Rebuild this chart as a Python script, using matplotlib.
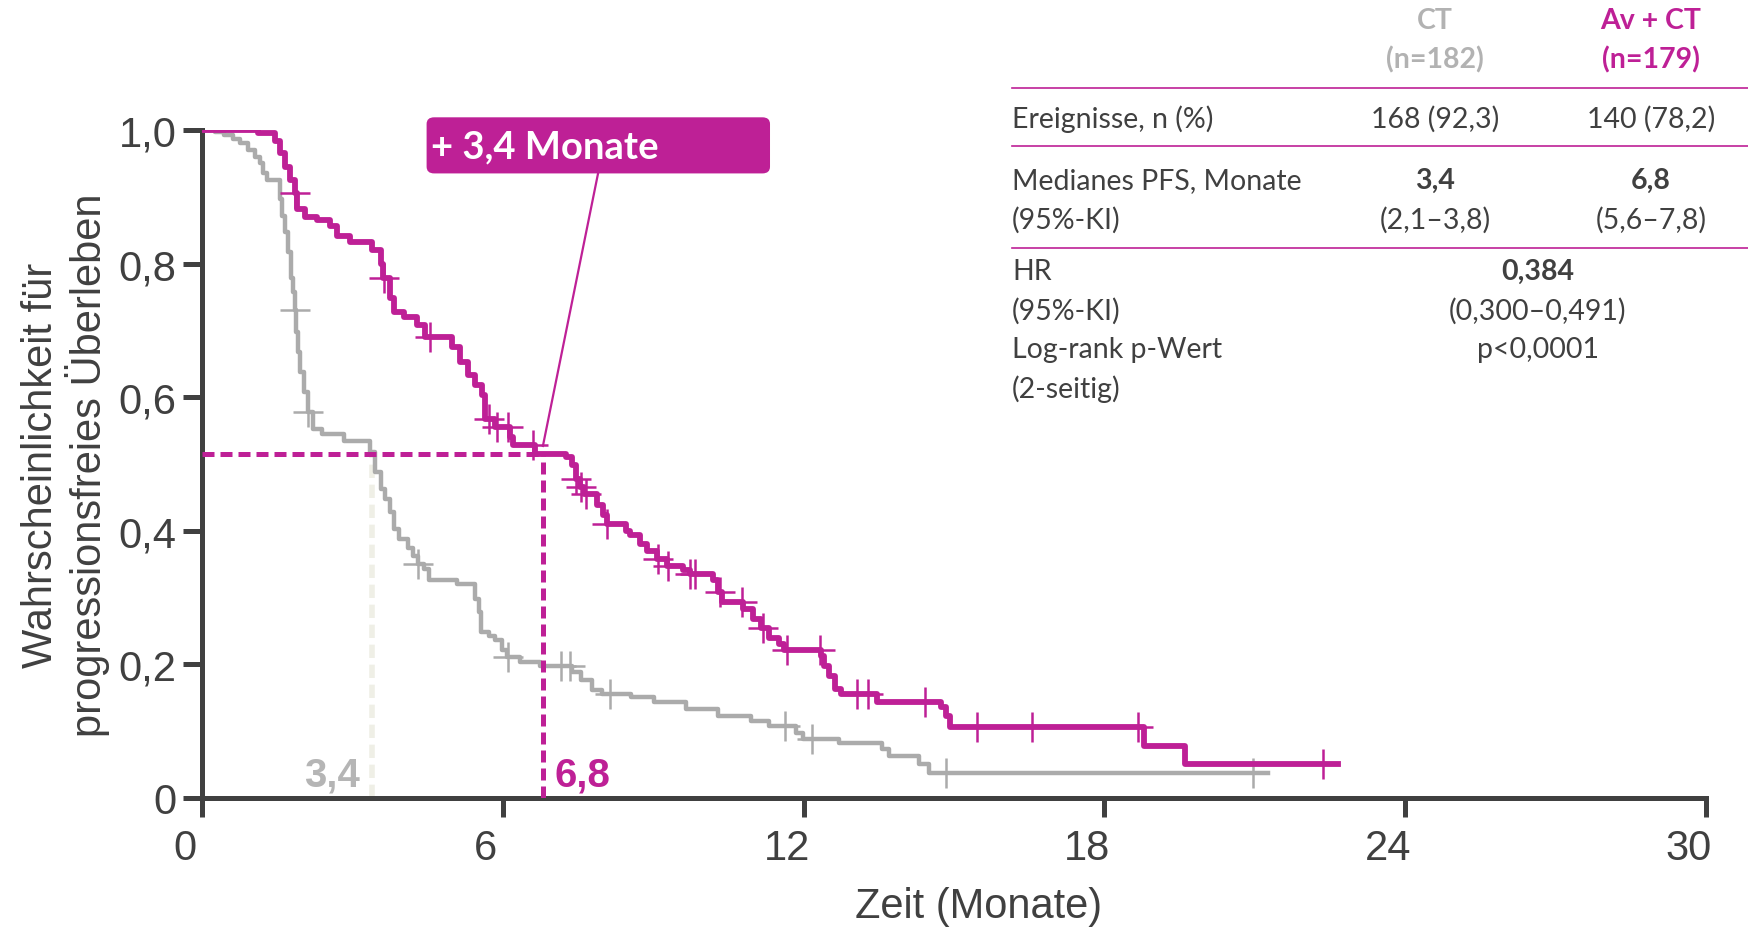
import numpy as np
import matplotlib
matplotlib.use("Agg")
import matplotlib.pyplot as plt
import matplotlib.transforms as mtransforms
from matplotlib.patches import FancyBboxPatch

# ---------------- data ----------------
# Av + CT arm: step times (months) and survival after each step
av_t = [0, 1.12, 1.46, 1.55, 1.65, 1.75, 1.85, 1.89, 2.05, 2.29, 2.55, 2.69, 2.95,
        3.39, 3.58, 3.62, 3.75, 3.82, 4.02, 4.28, 4.45, 4.98, 5.15, 5.30, 5.45,
        5.58, 5.65, 5.85, 6.15, 6.21, 6.65, 7.27, 7.38, 7.47, 7.54, 7.61, 7.87,
        8.00, 8.07, 8.45, 8.54, 8.74, 8.87, 9.07, 9.27, 9.60, 9.73, 10.20, 10.30,
        10.37, 10.80, 11.00, 11.15, 11.30, 11.50, 11.60, 12.35, 12.40, 12.50,
        12.62, 12.75, 13.46, 14.75, 14.85, 14.92, 18.78, 19.61, 22.65]
av_s = [1.0, 0.995, 0.983, 0.965, 0.945, 0.925, 0.905, 0.882, 0.870, 0.865, 0.857,
        0.842, 0.832, 0.820, 0.800, 0.778, 0.748, 0.728, 0.720, 0.708, 0.690, 0.675,
        0.652, 0.633, 0.618, 0.603, 0.568, 0.555, 0.540, 0.528, 0.515, 0.510, 0.498,
        0.478, 0.465, 0.455, 0.438, 0.423, 0.410, 0.400, 0.393, 0.380, 0.370, 0.358,
        0.348, 0.341, 0.336, 0.326, 0.308, 0.293, 0.283, 0.268, 0.255, 0.240, 0.231,
        0.221, 0.213, 0.198, 0.183, 0.163, 0.156, 0.143, 0.136, 0.123, 0.106, 0.078,
        0.051, 0.051]
av_cens = [1.86, 3.64, 4.55, 5.72, 5.88, 6.11, 6.61, 7.47, 7.56, 7.66, 8.07, 9.10,
           9.30, 9.73, 9.83, 10.33, 10.77, 11.20, 11.66, 12.33, 13.06, 13.29, 14.42,
           15.45, 16.56, 18.68, 22.37]

# CT arm
ct_t = [0, 0.26, 0.43, 0.62, 0.76, 0.92, 1.06, 1.16, 1.22, 1.30, 1.55, 1.60, 1.66,
        1.72, 1.77, 1.82, 1.86, 1.88, 1.91, 1.95, 2.03, 2.12, 2.22, 2.40, 2.84, 3.36,
        3.45, 3.58, 3.66, 3.75, 3.83, 3.93, 4.10, 4.20, 4.30, 4.42, 4.53, 5.08, 5.44,
        5.52, 5.57, 5.72, 5.85, 5.99, 6.08, 6.35, 6.75, 7.38, 7.55, 7.78, 7.98, 8.55,
        9.02, 9.65, 10.30, 10.95, 11.30, 11.85, 11.98, 12.70, 13.57, 13.70, 14.30,
        14.50, 21.27]
ct_s = [1.0, 0.997, 0.993, 0.987, 0.980, 0.970, 0.960, 0.950, 0.935, 0.925, 0.897,
        0.872, 0.847, 0.817, 0.778, 0.758, 0.730, 0.697, 0.667, 0.638, 0.608, 0.578,
        0.553, 0.545, 0.535, 0.518, 0.488, 0.463, 0.448, 0.428, 0.403, 0.388, 0.375,
        0.363, 0.351, 0.343, 0.326, 0.321, 0.298, 0.278, 0.248, 0.243, 0.236, 0.221,
        0.211, 0.203, 0.198, 0.188, 0.176, 0.161, 0.156, 0.151, 0.143, 0.133, 0.123,
        0.116, 0.108, 0.098, 0.088, 0.083, 0.073, 0.063, 0.051, 0.038, 0.038]
ct_cens = [1.86, 2.12, 4.30, 6.11, 7.17, 7.34, 8.13, 11.63, 12.16, 14.85, 20.97]

median_ct = 3.4
median_av = 6.8

x_ticks = [0, 6, 12, 18, 24, 30]
y_ticks = [0, 0.2, 0.4, 0.6, 0.8, 1.0]
y_ticklabels = ["0", "0,2", "0,4", "0,6", "0,8", "1,0"]

tab_cols = ["CT\n(n=182)", "Av + CT\n(n=179)"]
tab_rows = ["Ereignisse, n (%)", "Medianes PFS, Monate", "(95%-KI)",
            "HR", "(95%-KI)", "Log-rank p-Wert", "(2-seitig)"]
events = ["168 (92,3)", "140 (78,2)"]
medians = ["3,4", "6,8"]
median_ci = ["(2,1\u20133,8)", "(5,6\u20137,8)"]
hr_vals = ["0,384", "(0,300\u20130,491)", "p<0,0001"]

MAG = "#BE2096"
GRAY = "#ABABAB"
DARK = "#404040"
W, H = 1748, 928


def surv_at(t, s, x):
    i = np.searchsorted(t, x, side="right") - 1
    return np.array(s)[i]


def fx(px):
    return px / W


def fy(py):
    return 1 - py / H


fig = plt.figure(figsize=(W / 100, H / 100), dpi=100)
ax = fig.add_axes([fx(202), fy(799), (1706 - 202) / W, (799 - 131) / H])

ax.set_xlim(0, 30)
ax.set_ylim(0, 1.0)
for sp in ["top", "right"]:
    ax.spines[sp].set_visible(False)
for sp in ["left", "bottom"]:
    ax.spines[sp].set_linewidth(3.6)
    ax.spines[sp].set_color(DARK)
ax.tick_params(direction="out", length=13.5, width=3.6, color=DARK,
               labelsize=30, labelcolor=DARK)
ax.tick_params(axis="y", pad=5)
ax.tick_params(axis="x", pad=8)
ax.set_xticks(x_ticks)
ax.set_xticklabels([str(v) for v in x_ticks], family="Liberation Sans")
ax.set_yticks(y_ticks)
ax.set_yticklabels(y_ticklabels, family="Liberation Sans")
# x tick labels sit a little left of their ticks in the original
shift = mtransforms.ScaledTranslation(-0.17, 0, fig.dpi_scale_trans)
for lbl in ax.get_xticklabels():
    lbl.set_transform(lbl.get_transform() + shift)

ax.set_xlabel("Zeit (Monate)", fontsize=30, color=DARK, family="Liberation Sans",
              labelpad=13)
ax.xaxis.label.set_x(0.516)
ax.set_ylabel("Wahrscheinlichkeit für\nprogressionsfreies Überleben", fontsize=30,
              color=DARK, family="Liberation Sans", labelpad=6, linespacing=1.1)

# median guide lines, up to where the Av + CT curve crosses
lvl = surv_at(av_t, av_s, median_av)
ax.plot([median_ct, median_ct], [0, lvl], color="#EFEFE6", lw=4,
        dashes=(2.4, 1.2), zorder=2)
ax.plot([0, median_av], [lvl, lvl], color=MAG, lw=3.6, dashes=(2.4, 1.2), zorder=5)
ax.plot([median_av, median_av], [0, lvl], color=MAG, lw=3.6, dashes=(2.4, 1.2), zorder=5)

# curves
ax.step(ct_t, ct_s, where="post", color=GRAY, lw=3.2, zorder=3)
ax.plot(ct_cens, surv_at(ct_t, ct_s, ct_cens), "+", color=GRAY, ms=22, mew=1.8, zorder=3)
ax.step(av_t, av_s, where="post", color=MAG, lw=4.2, zorder=4)
ax.plot(av_cens, surv_at(av_t, av_s, av_cens), "+", color=MAG, ms=22, mew=1.8, zorder=4)

ax.text(3.15, 0.018, "3,4", color="#B5B5B5", fontsize=29, fontweight="bold",
        family="Liberation Sans", ha="right", va="baseline")
ax.text(7.04, 0.018, "6,8", color=MAG, fontsize=29, fontweight="bold",
        family="Liberation Sans", ha="left", va="baseline")

# "+ 3,4 Monate" callout
box = FancyBboxPatch((4.48, 0.935), 11.33 - 4.48, 1.019 - 0.935,
                     boxstyle="round,pad=0,rounding_size=0.15",
                     fc=MAG, ec="none", clip_on=False, zorder=6,
                     mutation_aspect=1 / 15)
ax.add_patch(box)
ax.text(4.56, 0.975, "+ 3,4 Monate", color="white", fontsize=27.5, fontweight="bold",
        family="Lato", ha="left", va="center", zorder=7)
ax.plot([7.9, median_av], [0.935, lvl + 0.012], color=MAG, lw=1.6, zorder=6,
        clip_on=False)

# summary table on the right
tf = dict(family="Lato", fontsize=20.5, color=DARK)
head_colors = ["#B2B2B2", MAG]
col_x = [1435, 1651]
for lab, cx, c in zip(tab_cols, col_x, head_colors):
    l1, l2 = lab.split("\n")
    fig.text(fx(cx), fy(21), l1, ha="center", va="center", fontweight="bold",
             family="Lato", fontsize=20.5, color=c)
    fig.text(fx(cx), fy(60), l2, ha="center", va="center", fontweight="bold",
             family="Lato", fontsize=20.5, color=c)

row_y = [119, 181, 220, 272, 311, 350, 389]
for lab, ry in zip(tab_rows, row_y):
    fig.text(fx(1012), fy(ry), lab, ha="left", va="center", **tf)
for i, cx in enumerate(col_x):
    fig.text(fx(cx), fy(119), events[i], ha="center", va="center", **tf)
    fig.text(fx(cx), fy(181), medians[i], ha="center", va="center",
             fontweight="bold", **tf)
    fig.text(fx(cx), fy(220), median_ci[i], ha="center", va="center", **tf)
fig.text(fx(1538), fy(272), hr_vals[0], ha="center", va="center", fontweight="bold", **tf)
fig.text(fx(1538), fy(311), hr_vals[1], ha="center", va="center", **tf)
fig.text(fx(1538), fy(350), hr_vals[2], ha="center", va="center", **tf)

for ly in [89, 147, 249]:
    fig.add_artist(plt.Line2D([fx(1012), 1.0], [fy(ly), fy(ly)], color=MAG, lw=1.2))

fig.savefig("out.png", dpi=100)
